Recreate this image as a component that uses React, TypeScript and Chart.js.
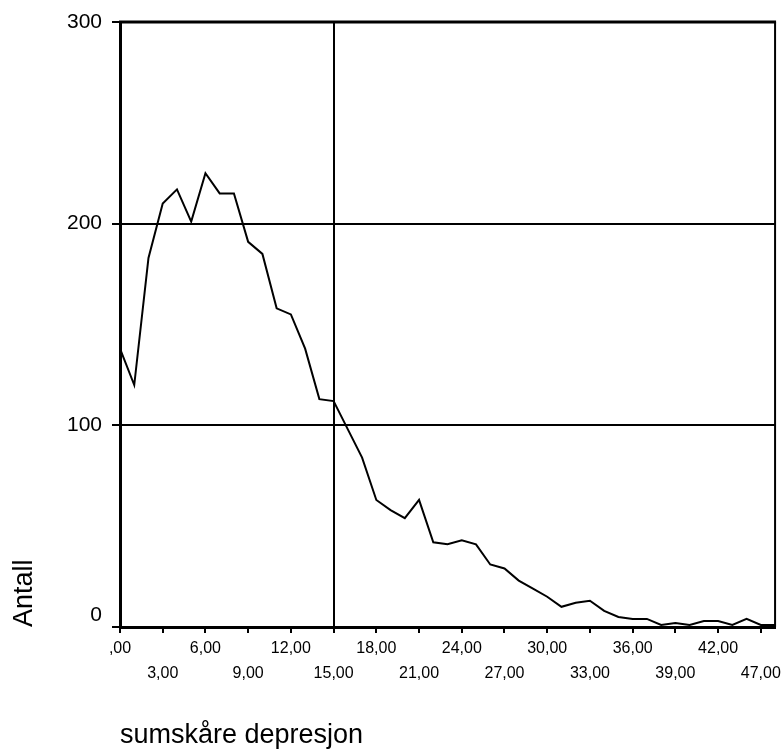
import React, { useEffect, useRef } from "react";
import { Chart, registerables } from "chart.js";

Chart.register(...registerables);

// Category values of "sumskåre depresjon" (only categories present in data)
const categories: number[] = [
  0, 1, 2, 3, 4, 5, 6, 7, 8, 9, 10, 11, 12, 13, 14, 15, 16, 17, 18, 19, 20,
  21, 22, 23, 24, 25, 26, 27, 28, 29, 30, 31, 32, 33, 34, 35, 36, 37, 38, 39,
  40, 41, 42, 43, 45, 47, 48,
];

// Antall (counts)
const counts: number[] = [
  138, 120, 183, 210, 217, 201, 225, 215, 215, 191, 185, 158, 155, 138, 113,
  112, 98, 84, 63, 58, 54, 63, 42, 41, 43, 41, 31, 29, 23, 19, 15, 10, 12, 13,
  8, 5, 4, 4, 1, 2, 1, 3, 3, 1, 4, 1, 1,
];

const yTickValues: number[] = [0, 100, 200, 300];
const referenceCategory = 15;
const xTitle = "sumskåre depresjon";
const yTitle = "Antall";

const FONT = "'Liberation Sans', Arial, Helvetica, sans-serif";

const fmt = (v: number) => (v === 0 ? ",00" : `${v},00`);

const framePlugin = {
  id: "frame",
  afterDraw(chart: any) {
    const { ctx, chartArea } = chart;
    ctx.save();
    ctx.strokeStyle = "#000";
    ctx.lineWidth = 3;
    ctx.beginPath();
    ctx.moveTo(chartArea.left - 1, chartArea.top);
    ctx.lineTo(chartArea.right + 1, chartArea.top);
    ctx.stroke();
    ctx.lineWidth = 2;
    ctx.beginPath();
    ctx.moveTo(chartArea.right, chartArea.top);
    ctx.lineTo(chartArea.right, chartArea.bottom);
    ctx.stroke();
    ctx.restore();
  },
};

export default function App() {
  const ref = useRef<HTMLCanvasElement | null>(null);

  useEffect(() => {
    if (!ref.current) return;
    const refIndex = categories.indexOf(referenceCategory);
    const chart = new Chart(ref.current, {
      type: "line",
      data: {
        labels: categories.map(fmt),
        datasets: [
          {
            data: counts,
            borderColor: "#000",
            borderWidth: 2,
            pointRadius: 0,
            tension: 0,
            fill: false,
          },
        ],
      },
      options: {
        responsive: false,
        animation: false,
        maintainAspectRatio: false,
        layout: { padding: { top: 22, right: 7, left: 0, bottom: 0 } },
        plugins: {
          legend: { display: false },
          tooltip: { enabled: false },
        },
        scales: {
          x: {
            type: "category",
            offset: false,
            afterFit: (scale: any) => {
              scale.height = 128;
            },
            border: { display: true, color: "#000", width: 3 },
            grid: {
              offset: false,
              drawOnChartArea: true,
              drawTicks: true,
              tickLength: 6,
              lineWidth: 2,
              tickWidth: 2,
              color: (ctx: any) =>
                ctx.tick && ctx.tick.value === refIndex
                  ? "#000"
                  : "rgba(0,0,0,0)",
              tickColor: "#000",
            },
            ticks: {
              autoSkip: false,
              maxRotation: 0,
              minRotation: 0,
              padding: 3,
              color: "#000",
              font: { family: FONT, size: 16, lineHeight: 1.5625 },
              callback: (_v: any, index: number) => {
                const lab = fmt(categories[index]);
                if (index % 6 === 0) return lab;
                if (index % 6 === 3) return ["", lab];
                return null;
              },
            },
            title: {
              display: true,
              text: xTitle,
              align: "start",
              color: "#000",
              font: { family: FONT, size: 27 },
              padding: { top: 0, bottom: 3 },
            },
          },
          y: {
            min: 0,
            max: 300,
            afterFit: (scale: any) => {
              scale.width = 120;
            },
            afterBuildTicks: (scale: any) => {
              scale.ticks = yTickValues.map((v) => ({ value: v }));
            },
            border: { display: true, color: "#000", width: 3 },
            grid: {
              color: "#000",
              lineWidth: 2,
              drawTicks: true,
              tickLength: 8,
              tickColor: "#000",
              tickWidth: 2,
            },
            ticks: {
              padding: 10,
              color: "#000",
              font: { family: FONT, size: 21, lineHeight: 1.1 },
              callback: (v: any) => (Number(v) === 0 ? ["0", ""] : String(v)),
            },
            title: {
              display: true,
              text: yTitle,
              align: "start",
              color: "#000",
              font: { family: FONT, size: 27 },
              padding: { top: 8, bottom: 0 },
            },
          },
        },
      },
      plugins: [framePlugin],
    } as any);
    return () => chart.destroy();
  }, []);

  return (
    <div
      style={{
        position: "fixed",
        left: 0,
        top: 0,
        width: 784,
        height: 755,
        background: "#fff",
      }}
    >
      <canvas ref={ref} width={784} height={755} style={{ display: "block" }} />
    </div>
  );
}
